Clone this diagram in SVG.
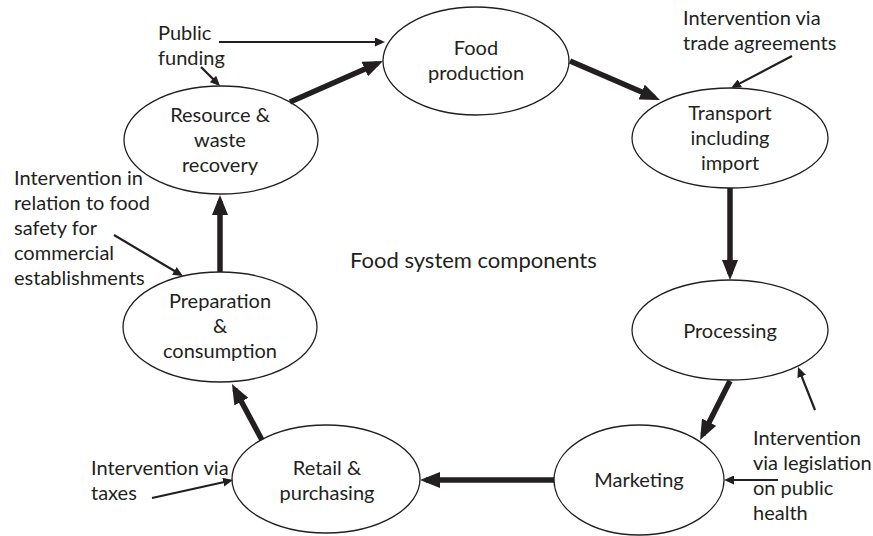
<svg xmlns="http://www.w3.org/2000/svg" width="873" height="536" viewBox="0 0 873 536">
<style>
text{font-family:Lato,"Open Sans","Liberation Sans",sans-serif;font-size:20px;fill:#231f20}
.n text{text-anchor:middle}
ellipse{fill:#fff;stroke:#231f20;stroke-width:1.3}
.thick{stroke:#231f20;stroke-width:5.5;fill:none;marker-end:url(#big)}
.thin{stroke:#231f20;stroke-width:2.2;fill:none;marker-end:url(#small)}
</style>
<defs>
<marker id="big" markerUnits="userSpaceOnUse" viewBox="0 0 20 16" markerWidth="20" markerHeight="16" refX="14" refY="8" orient="auto"><path d="M0,0 L20,8 L0,16 z" fill="#231f20"/></marker>
<marker id="small" markerUnits="userSpaceOnUse" viewBox="0 0 10 9" markerWidth="10" markerHeight="9" refX="7" refY="4.5" orient="auto"><path d="M0,0 L10,4.5 L0,9 z" fill="#231f20"/></marker>
</defs>
<rect width="873" height="536" fill="#fff"/>
<g id="food-production" class="n"><ellipse cx="476" cy="61" rx="93" ry="54"/><text x="476" y="55">Food</text><text x="476" y="80">production</text></g>
<g id="transport" class="n"><ellipse cx="730" cy="138" rx="98" ry="50"/><text x="730" y="120">Transport</text><text x="730" y="145">including</text><text x="730" y="170">import</text></g>
<g id="processing" class="n"><ellipse cx="730" cy="330" rx="98" ry="50"/><text x="730" y="338">Processing</text></g>
<g id="marketing" class="n"><ellipse cx="639" cy="480" rx="85" ry="55"/><text x="639" y="487">Marketing</text></g>
<g id="retail" class="n"><ellipse cx="326" cy="479" rx="94" ry="54"/><text x="327" y="475">Retail &amp;</text><text x="327" y="500">purchasing</text></g>
<g id="preparation" class="n"><ellipse cx="220" cy="327" rx="97" ry="55"/><text x="220" y="308">Preparation</text><text x="220" y="333">&amp;</text><text x="220" y="358">consumption</text></g>
<g id="resource" class="n"><ellipse cx="221" cy="140" rx="97" ry="54"/><text x="220" y="122">Resource &amp;</text><text x="220" y="147">waste</text><text x="220" y="172">recovery</text></g>
<g id="title"><text x="350" y="268" style="font-size:22px">Food system components</text></g>
<g id="notes">
<text x="158" y="40">Public</text><text x="158" y="65">funding</text>
<text x="683" y="25">Intervention via</text><text x="683" y="50">trade agreements</text>
<text x="14" y="185">Intervention in</text><text x="14" y="210">relation to food</text><text x="14" y="235">safety for</text><text x="14" y="260">commercial</text><text x="14" y="285">establishments</text>
<text x="91" y="475">Intervention via</text><text x="91" y="500">taxes</text>
<text x="753" y="445">Intervention</text><text x="753" y="470">via legislation</text><text x="753" y="495">on public</text><text x="753" y="520">health</text>
</g>
<g id="connectors">
<line class="thick" x1="290" y1="102" x2="377.5" y2="63.4"/>
<line class="thick" x1="570" y1="61" x2="654.5" y2="97.6"/>
<line class="thick" x1="730" y1="188" x2="730" y2="274"/>
<line class="thick" x1="730" y1="381" x2="702.8" y2="434.7"/>
<line class="thick" x1="554" y1="480" x2="426" y2="480"/>
<line class="thick" x1="262" y1="440" x2="234.8" y2="389.3"/>
<line class="thick" x1="220" y1="272" x2="220" y2="201"/>
<line class="thin" x1="219" y1="42" x2="382" y2="42"/>
<line class="thin" x1="201" y1="67" x2="217.9" y2="83.9"/>
<line class="thin" x1="792" y1="56" x2="733.7" y2="86.6"/>
<line class="thin" x1="114" y1="235" x2="180.4" y2="274.5"/>
<line class="thin" x1="152" y1="498" x2="230.1" y2="480.7"/>
<line class="thin" x1="778" y1="480" x2="727" y2="480"/>
<line class="thin" x1="815" y1="410" x2="799.1" y2="369.8"/>
</g>
</svg>
